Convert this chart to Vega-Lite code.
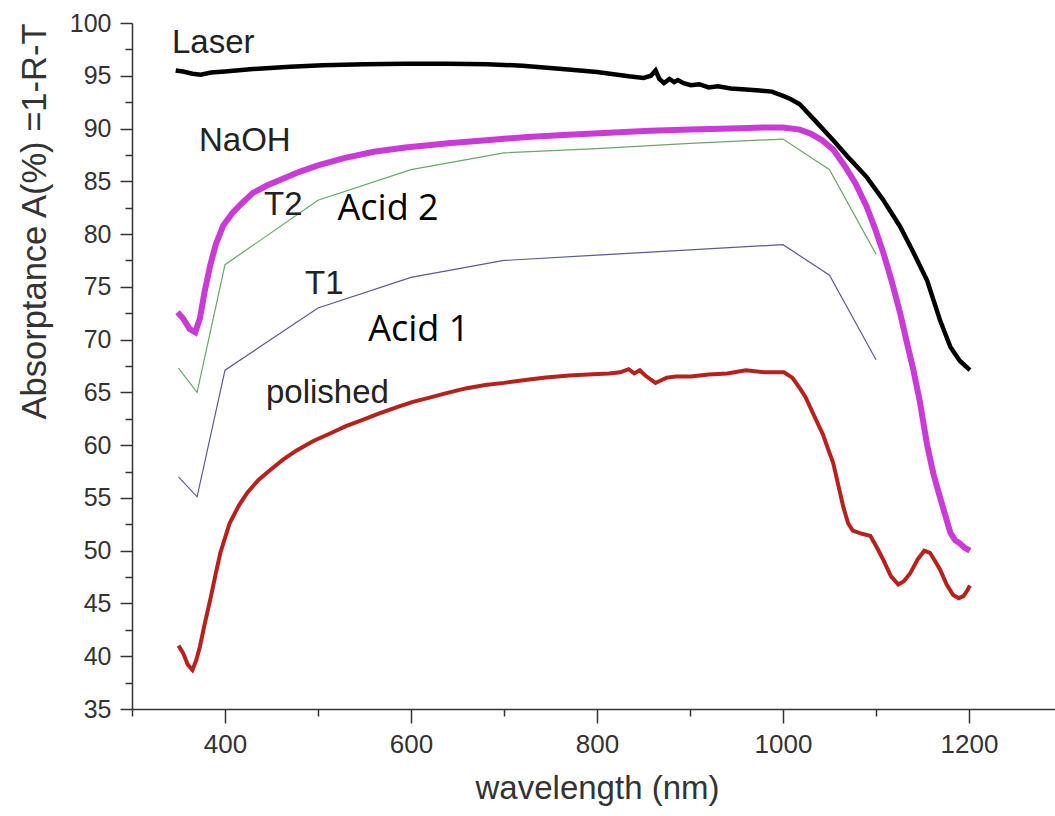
{
  "$schema": "https://vega.github.io/schema/vega-lite/v6.json",
  "width": 930,
  "height": 686,
  "autosize": {"type": "none"},
  "padding": {"left": 132, "top": 23, "right": 0, "bottom": 107},
  "background": "white",
  "config": {"view": {"stroke": null}, "font": "Liberation Sans"},
  "datasets": {
    "laser": [
      {"nm": 347, "a": 95.5}, {"nm": 355, "a": 95.4}, {"nm": 365, "a": 95.2}, {"nm": 374, "a": 95.1}, {"nm": 385, "a": 95.3}, {"nm": 400, "a": 95.4}, {"nm": 418, "a": 95.55}, {"nm": 440, "a": 95.7}, {"nm": 470, "a": 95.85}, {"nm": 505, "a": 96.0}, {"nm": 550, "a": 96.1}, {"nm": 594, "a": 96.15}, {"nm": 640, "a": 96.15}, {"nm": 682, "a": 96.1}, {"nm": 720, "a": 95.95}, {"nm": 769, "a": 95.6}, {"nm": 800, "a": 95.35}, {"nm": 834, "a": 94.95}, {"nm": 850, "a": 94.8}, {"nm": 858, "a": 95.0}, {"nm": 863, "a": 95.5}, {"nm": 867, "a": 94.7}, {"nm": 872, "a": 94.3}, {"nm": 878, "a": 94.7}, {"nm": 883, "a": 94.4}, {"nm": 887, "a": 94.6}, {"nm": 893, "a": 94.3}, {"nm": 901, "a": 94.1}, {"nm": 910, "a": 94.2}, {"nm": 920, "a": 93.9}, {"nm": 930, "a": 94.0}, {"nm": 944, "a": 93.8}, {"nm": 960, "a": 93.7}, {"nm": 975, "a": 93.6}, {"nm": 988, "a": 93.5}, {"nm": 1000, "a": 93.1}, {"nm": 1008, "a": 92.8}, {"nm": 1018, "a": 92.3}, {"nm": 1035, "a": 90.7}, {"nm": 1054, "a": 88.9}, {"nm": 1072, "a": 87.1}, {"nm": 1090, "a": 85.4}, {"nm": 1108, "a": 83.2}, {"nm": 1126, "a": 80.7}, {"nm": 1140, "a": 78.3}, {"nm": 1155, "a": 75.6}, {"nm": 1169, "a": 71.8}, {"nm": 1180, "a": 69.3}, {"nm": 1190, "a": 68.0}, {"nm": 1201, "a": 67.1}
    ],
    "naoh": [
      {"nm": 349, "a": 72.6}, {"nm": 355, "a": 72.0}, {"nm": 362, "a": 71.0}, {"nm": 368, "a": 70.7}, {"nm": 373, "a": 72.0}, {"nm": 378, "a": 74.5}, {"nm": 384, "a": 77.0}, {"nm": 390, "a": 79.0}, {"nm": 398, "a": 80.8}, {"nm": 408, "a": 82.0}, {"nm": 418, "a": 82.9}, {"nm": 430, "a": 83.9}, {"nm": 445, "a": 84.6}, {"nm": 461, "a": 85.2}, {"nm": 480, "a": 85.9}, {"nm": 500, "a": 86.5}, {"nm": 528, "a": 87.2}, {"nm": 560, "a": 87.8}, {"nm": 594, "a": 88.2}, {"nm": 640, "a": 88.6}, {"nm": 681, "a": 88.9}, {"nm": 725, "a": 89.2}, {"nm": 769, "a": 89.4}, {"nm": 813, "a": 89.6}, {"nm": 857, "a": 89.8}, {"nm": 900, "a": 89.9}, {"nm": 944, "a": 90.0}, {"nm": 980, "a": 90.1}, {"nm": 1000, "a": 90.1}, {"nm": 1018, "a": 89.9}, {"nm": 1030, "a": 89.5}, {"nm": 1042, "a": 88.9}, {"nm": 1054, "a": 88.0}, {"nm": 1066, "a": 86.5}, {"nm": 1078, "a": 84.8}, {"nm": 1090, "a": 82.6}, {"nm": 1099, "a": 80.5}, {"nm": 1108, "a": 78.2}, {"nm": 1117, "a": 75.5}, {"nm": 1126, "a": 72.5}, {"nm": 1133, "a": 69.8}, {"nm": 1140, "a": 67.2}, {"nm": 1147, "a": 64.2}, {"nm": 1155, "a": 60.0}, {"nm": 1162, "a": 57.2}, {"nm": 1169, "a": 55.0}, {"nm": 1175, "a": 53.2}, {"nm": 1180, "a": 51.7}, {"nm": 1185, "a": 51.0}, {"nm": 1190, "a": 50.7}, {"nm": 1195, "a": 50.3}, {"nm": 1201, "a": 50.0}
    ],
    "acid2": [
      {"nm": 350, "a": 67.3}, {"nm": 370, "a": 65.0}, {"nm": 400, "a": 77.1}, {"nm": 500, "a": 83.2}, {"nm": 600, "a": 86.1}, {"nm": 700, "a": 87.7}, {"nm": 800, "a": 88.1}, {"nm": 900, "a": 88.6}, {"nm": 1000, "a": 89.0}, {"nm": 1050, "a": 86.1}, {"nm": 1100, "a": 78.1}
    ],
    "acid1": [
      {"nm": 350, "a": 57.0}, {"nm": 370, "a": 55.1}, {"nm": 400, "a": 67.1}, {"nm": 500, "a": 73.0}, {"nm": 600, "a": 75.9}, {"nm": 700, "a": 77.5}, {"nm": 800, "a": 78.0}, {"nm": 900, "a": 78.5}, {"nm": 1000, "a": 79.0}, {"nm": 1050, "a": 76.1}, {"nm": 1100, "a": 68.1}
    ],
    "polished": [
      {"nm": 350, "a": 41.0}, {"nm": 355, "a": 40.3}, {"nm": 360, "a": 39.2}, {"nm": 365, "a": 38.7}, {"nm": 369, "a": 39.6}, {"nm": 373, "a": 40.9}, {"nm": 378, "a": 43.0}, {"nm": 384, "a": 45.3}, {"nm": 390, "a": 47.8}, {"nm": 395, "a": 49.8}, {"nm": 405, "a": 52.6}, {"nm": 415, "a": 54.3}, {"nm": 424, "a": 55.5}, {"nm": 436, "a": 56.7}, {"nm": 448, "a": 57.6}, {"nm": 462, "a": 58.6}, {"nm": 477, "a": 59.5}, {"nm": 495, "a": 60.4}, {"nm": 513, "a": 61.1}, {"nm": 530, "a": 61.8}, {"nm": 548, "a": 62.4}, {"nm": 566, "a": 63.0}, {"nm": 585, "a": 63.6}, {"nm": 602, "a": 64.1}, {"nm": 620, "a": 64.5}, {"nm": 637, "a": 64.9}, {"nm": 660, "a": 65.4}, {"nm": 680, "a": 65.7}, {"nm": 700, "a": 65.9}, {"nm": 725, "a": 66.2}, {"nm": 745, "a": 66.4}, {"nm": 770, "a": 66.6}, {"nm": 790, "a": 66.7}, {"nm": 813, "a": 66.8}, {"nm": 825, "a": 66.9}, {"nm": 834, "a": 67.2}, {"nm": 840, "a": 66.8}, {"nm": 846, "a": 67.1}, {"nm": 852, "a": 66.6}, {"nm": 858, "a": 66.2}, {"nm": 863, "a": 65.9}, {"nm": 868, "a": 66.1}, {"nm": 875, "a": 66.4}, {"nm": 885, "a": 66.5}, {"nm": 901, "a": 66.5}, {"nm": 920, "a": 66.7}, {"nm": 940, "a": 66.8}, {"nm": 960, "a": 67.1}, {"nm": 980, "a": 66.9}, {"nm": 1001, "a": 66.9}, {"nm": 1010, "a": 66.4}, {"nm": 1018, "a": 65.4}, {"nm": 1024, "a": 64.6}, {"nm": 1035, "a": 62.5}, {"nm": 1043, "a": 61.0}, {"nm": 1049, "a": 59.5}, {"nm": 1054, "a": 58.3}, {"nm": 1060, "a": 56.0}, {"nm": 1065, "a": 54.1}, {"nm": 1070, "a": 52.6}, {"nm": 1075, "a": 51.9}, {"nm": 1085, "a": 51.6}, {"nm": 1094, "a": 51.4}, {"nm": 1101, "a": 50.3}, {"nm": 1108, "a": 49.1}, {"nm": 1116, "a": 47.6}, {"nm": 1124, "a": 46.8}, {"nm": 1130, "a": 47.1}, {"nm": 1137, "a": 47.9}, {"nm": 1145, "a": 49.2}, {"nm": 1152, "a": 50.0}, {"nm": 1158, "a": 49.8}, {"nm": 1163, "a": 49.1}, {"nm": 1169, "a": 48.2}, {"nm": 1176, "a": 46.8}, {"nm": 1183, "a": 45.8}, {"nm": 1189, "a": 45.5}, {"nm": 1194, "a": 45.7}, {"nm": 1198, "a": 46.2}, {"nm": 1201, "a": 46.7}
    ],
    "labels": [
      {"t": "Laser", "nm": 343, "a": 98.1},
      {"t": "NaOH", "nm": 372, "a": 88.8},
      {"t": "T2", "nm": 442, "a": 82.75},
      {"t": "T1", "nm": 486, "a": 75.3},
      {"t": "polished", "nm": 444, "a": 64.9}
    ],
    "labels2": [
      {"t": "Acid 2", "nm": 521, "a": 82.4},
      {"t": "Acid 1", "nm": 554, "a": 70.9}
    ]
  },
  "layer": [
    {
      "data": {"name": "acid2"},
      "mark": {"type": "line", "color": "#6aa66a", "strokeWidth": 1.2},
      "encoding": {
        "x": {
          "field": "nm", "type": "quantitative",
          "scale": {"domain": [300, 1300], "nice": false, "zero": false},
          "axis": {
            "orient": "bottom", "values": [400, 600, 800, 1000, 1200], "format": "d", "grid": false,
            "tickSize": 14, "tickWidth": 1.5, "tickColor": "#333", "domainColor": "#333", "domainWidth": 1.5,
            "labelFontSize": 26, "labelColor": "#333", "labelPadding": 8, "labelFont": "Liberation Sans",
            "title": "wavelength (nm)", "titleFontSize": 33, "titleFontWeight": "normal", "titleColor": "#333",
            "titleFont": "Liberation Sans", "titlePadding": 15
          }
        },
        "y": {
          "field": "a", "type": "quantitative",
          "scale": {"domain": [35, 100], "nice": false, "zero": false},
          "axis": {
            "orient": "left", "values": [35, 40, 45, 50, 55, 60, 65, 70, 75, 80, 85, 90, 95, 100], "grid": false,
            "tickSize": 12, "tickWidth": 1.5, "tickColor": "#333", "domainColor": "#333", "domainWidth": 1.5,
            "labelFontSize": 25, "labelColor": "#333", "labelPadding": 9, "labelFont": "Liberation Sans",
            "title": "Absorptance A(%) =1-R-T", "titleFontSize": 34.5, "titleFontWeight": "normal", "titleColor": "#333",
            "titleFont": "Liberation Sans", "titlePadding": 17, "titleAnchor": "end"
          }
        }
      }
    },
    {
      "data": {"name": "acid1"},
      "mark": {"type": "line", "color": "#5b5b8f", "strokeWidth": 1.2},
      "encoding": {
        "x": {"field": "nm", "type": "quantitative", "axis": null},
        "y": {"field": "a", "type": "quantitative", "axis": null}
      }
    },
    {
      "data": {"name": "laser"},
      "mark": {"type": "line", "color": "#000000", "strokeWidth": 4.5},
      "encoding": {
        "x": {"field": "nm", "type": "quantitative", "axis": null},
        "y": {"field": "a", "type": "quantitative", "axis": null}
      }
    },
    {
      "data": {"name": "naoh"},
      "mark": {"type": "line", "color": "#c93ad6", "strokeWidth": 6},
      "encoding": {
        "x": {"field": "nm", "type": "quantitative", "axis": null},
        "y": {"field": "a", "type": "quantitative", "axis": null}
      }
    },
    {
      "data": {"name": "polished"},
      "mark": {"type": "line", "color": "#b8211b", "strokeWidth": 4},
      "encoding": {
        "x": {"field": "nm", "type": "quantitative", "axis": null},
        "y": {"field": "a", "type": "quantitative", "axis": null}
      }
    },
    {
      "data": {"name": "labels"},
      "mark": {"type": "text", "align": "left", "baseline": "middle", "font": "Liberation Sans", "fontSize": 33, "color": "#222"},
      "encoding": {
        "x": {
          "field": "nm", "type": "quantitative",
          "axis": {
            "orient": "bottom", "values": [300, 500, 700, 900, 1100, 1300], "labels": false, "domain": false, "grid": false,
            "tickSize": 7, "tickWidth": 1.5, "tickColor": "#333", "title": null
          }
        },
        "y": {
          "field": "a", "type": "quantitative",
          "axis": {
            "orient": "left", "values": [37.5, 42.5, 47.5, 52.5, 57.5, 62.5, 67.5, 72.5, 77.5, 82.5, 87.5, 92.5, 97.5], "labels": false, "domain": false, "grid": false,
            "tickSize": 7, "tickWidth": 1.5, "tickColor": "#333", "title": null
          }
        },
        "text": {"field": "t"}
      }
    },
    {
      "data": {"name": "labels2"},
      "mark": {"type": "text", "align": "left", "baseline": "middle", "font": "Open Sans", "fontSize": 36, "color": "#000"},
      "encoding": {
        "x": {"field": "nm", "type": "quantitative", "axis": null},
        "y": {"field": "a", "type": "quantitative", "axis": null},
        "text": {"field": "t"}
      }
    }
  ],
  "resolve": {"axis": {"x": "independent", "y": "independent"}}
}
